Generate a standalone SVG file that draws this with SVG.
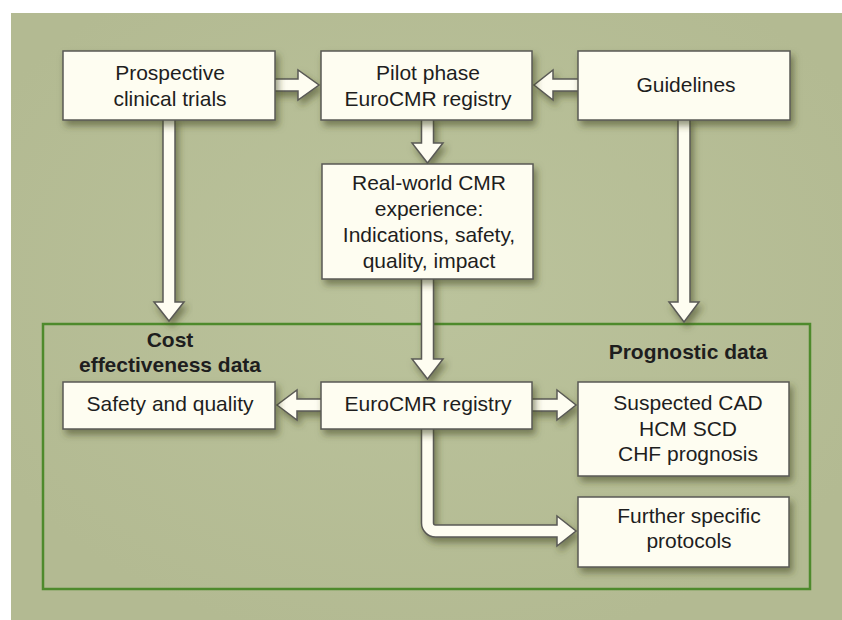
<svg xmlns="http://www.w3.org/2000/svg" width="842" height="620" viewBox="0 0 842 620">
  <defs>
    <radialGradient id="bg" cx="0.5" cy="0.45" r="0.6">
      <stop offset="0" stop-color="#BBC39C"/>
      <stop offset="1" stop-color="#B3BA92"/>
    </radialGradient>
    <filter id="sh" x="-20%" y="-20%" width="150%" height="160%">
      <feDropShadow dx="3" dy="5" stdDeviation="3.5" flood-color="#3C4522" flood-opacity="0.55"/>
    </filter>
    <style>
      .box { fill: #FEFDF1; stroke: #5A5A55; stroke-width: 1.5; filter: url(#sh); }
      .arr { fill: #FEFDF1; stroke: #5A5A55; stroke-width: 1.5; stroke-linejoin: miter; filter: url(#sh); }
      .t { font-family: "Liberation Sans", Arial, sans-serif; font-size: 21px; fill: #1E1E1E; text-anchor: middle; }
      .b { font-weight: bold; }
    </style>
  </defs>

  <rect x="11" y="13" width="831" height="607" fill="url(#bg)"/>
  <rect id="frame" x="43" y="324" width="767" height="265" fill="none" stroke="#4E8A2C" stroke-width="2.5"/>

  <g id="connectors">
    <!-- Prospective -> Pilot -->
    <path class="arr" d="M272,79 H298 V70 L319,85 L298,100 V91 H272 Z"/>
    <!-- Guidelines -> Pilot -->
    <path class="arr" d="M581,79 H553 V70 L534,85 L553,100 V91 H581 Z"/>
    <!-- Pilot -> Real-world -->
    <path class="arr" d="M421.5,117 V143 H412 L427.5,163 L443,143 H433.5 V117 Z"/>
    <!-- Prospective -> Cost -->
    <path class="arr" d="M163,117 V302 H154 L169,321 L184,302 H175 V117 Z"/>
    <!-- Guidelines -> Prognostic -->
    <path class="arr" d="M678,117 V302 H669 L684,322 L699,302 H690 V117 Z"/>
    <!-- Real-world -> EuroCMR -->
    <path class="arr" d="M421.5,275 V359 H412 L427.5,379 L443,359 H433.5 V275 Z"/>
    <!-- EuroCMR -> Safety -->
    <path class="arr" d="M324,399 H297 V390 L277,405 L297,420 V411 H324 Z"/>
    <!-- EuroCMR -> Suspected -->
    <path class="arr" d="M529,399 H557 V390 L576,405 L557,420 V411 H529 Z"/>
    <!-- EuroCMR -> Further (bent) -->
    <path class="arr" d="M421.5,426 V523 A14,14 0 0 0 435.5,537 H557 V546 L576,531 L557,516 V525 H435.5 A2,2 0 0 1 433.5,523 V426 Z"/>
  </g>

  <g id="prospective">
    <rect class="box" x="63" y="51" width="212" height="69"/>
    <text class="t" x="170" y="80">Prospective</text>
    <text class="t" x="170" y="106">clinical trials</text>
  </g>
  <g id="pilot">
    <rect class="box" x="321" y="51" width="211" height="69"/>
    <text class="t" x="428" y="80">Pilot phase</text>
    <text class="t" x="428" y="106">EuroCMR registry</text>
  </g>
  <g id="guidelines">
    <rect class="box" x="578" y="51" width="212" height="69"/>
    <text class="t" x="686" y="92">Guidelines</text>
  </g>
  <g id="realworld">
    <rect class="box" x="322" y="164" width="211" height="115"/>
    <text class="t" x="429" y="190">Real-world CMR</text>
    <text class="t" x="429" y="216">experience:</text>
    <text class="t" x="429" y="242">Indications, safety,</text>
    <text class="t" x="429" y="268">quality, impact</text>
  </g>
  <g id="cost">
    <text class="t b" x="170" y="347">Cost</text>
    <text class="t b" x="170" y="372">effectiveness data</text>
  </g>
  <g id="prognostic">
    <text class="t b" x="688" y="359">Prognostic data</text>
  </g>
  <g id="safety">
    <rect class="box" x="63" y="382" width="212" height="47"/>
    <text class="t" x="170" y="411">Safety and quality</text>
  </g>
  <g id="eurocmr">
    <rect class="box" x="321" y="382" width="211" height="47"/>
    <text class="t" x="428" y="411">EuroCMR registry</text>
  </g>
  <g id="suspected">
    <rect class="box" x="578" y="382" width="211" height="94"/>
    <text class="t" x="688" y="410">Suspected CAD</text>
    <text class="t" x="688" y="436">HCM SCD</text>
    <text class="t" x="688" y="461">CHF prognosis</text>
  </g>
  <g id="further">
    <rect class="box" x="578" y="497" width="211" height="70"/>
    <text class="t" x="689" y="523">Further specific</text>
    <text class="t" x="689" y="548">protocols</text>
  </g>
</svg>
